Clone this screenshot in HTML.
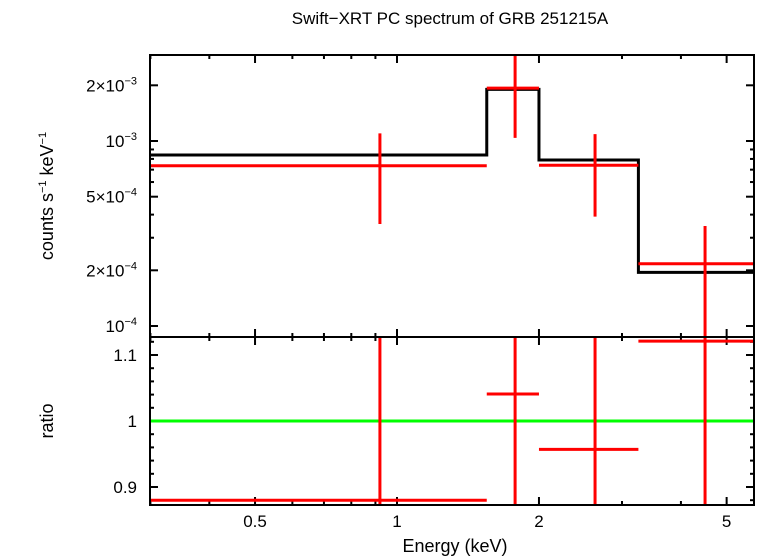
<!DOCTYPE html>
<html><head><meta charset="utf-8"><style>
body{margin:0;background:#fff}
svg{display:block;font-family:"Liberation Sans",sans-serif}
</style></head><body>
<svg id="c" width="758" height="556" xmlns="http://www.w3.org/2000/svg"></svg>
<script>
const binLo=[0.3,1.55,2.0,3.25];
const binHi=[1.55,2.0,3.25,5.72];
const binCenter=[0.92,1.78,2.63,4.5];
const modelVals=[8.4e-4,1.9e-3,7.9e-4,1.95e-4];
const dataVals=[7.35e-4,1.93e-3,7.4e-4,2.17e-4];
const dataErrLo=[3.56e-4,1.04e-3,3.9e-4,5e-5];
const dataErrHi=[1.1e-3,3.5e-3,1.09e-3,3.47e-4];
const ratioVals=[0.88,1.041,0.957,1.121];
const ratioErrLo=[0.5,0.5,0.5,0.5];
const ratioErrHi=[1.5,1.5,1.5,1.5];
const xTickVals=[0.5,1,2,5];
const xTickLabels=["0.5","1","2","5"];
const yTickVals=[2e-3,1e-3,5e-4,2e-4,1e-4];
const rTickVals=[0.9,1,1.1];
const rTickLabels=["0.9","1","1.1"];

const L=150,R=754,T=55,M=337,B=505;
const NS="http://www.w3.org/2000/svg";
const svg=document.getElementById('c');
const xs=e=>397+471.6*Math.log10(e);
const ys=v=>141-185*(Math.log10(v)+3);
const yr=v=>421-660*(v-1);
const clampT=y=>Math.max(T,Math.min(M,y));
const clampR=y=>Math.max(M,Math.min(B,y));
function el(tag,attrs,name,parent){const e=document.createElementNS(NS,tag);for(const k in attrs)e.setAttribute(k,attrs[k]);


(parent||svg).appendChild(e);return e;}
function line(x1,y1,x2,y2,c,w,name){return el('line',{x1,y1,x2,y2,stroke:c,'stroke-width':w},name);}
function text(x,y,s,name,anchor,size,extra){const t=el('text',Object.assign({x,y,'font-size':size||17,'text-anchor':anchor||'middle',fill:'#000'},extra||{}),name);t.innerHTML=s;return t;}

const minors=[];for(let d=0.1;d<=1;d*=10)for(let k=1;k<10;k++){const v=k*d;if(v>0.3&&v<5.7)minors.push(v);}
minors.forEach(v=>{const x=xs(v);const maj=xTickVals.includes(+v.toFixed(3));const len=maj?8:4;
 [[T,1],[M,-1],[M,1],[B,-1]].forEach(([y,s])=>line(x,y,x,y+s*len,'#000',2,'x-tick'));});
xTickVals.forEach((v,i)=>text(xs(v),527,xTickLabels[i],'x-tick-label','middle',17));
const yMin=[];for(let d=1e-4;d<=1e-3;d*=10)for(let k=1;k<10;k++){const v=k*d;if(ys(v)>T&&ys(v)<M)yMin.push(v);}
yMin.forEach(v=>{const y=ys(v);const maj=yTickVals.some(t=>Math.abs(t-v)/t<1e-6);const len=maj?8:4;
 line(L,y,L+len,y,'#000',2,'y-tick');line(R,y,R-len,y,'#000',2,'y-tick');});
const yLab=['2×10<tspan dy="-7" font-size="11">−3</tspan>','10<tspan dy="-7" font-size="11">−3</tspan>','5×10<tspan dy="-7" font-size="11">−4</tspan>','2×10<tspan dy="-7" font-size="11">−4</tspan>','10<tspan dy="-7" font-size="11">−4</tspan>'];
yTickVals.forEach((v,i)=>text(137,ys(v)+6,yLab[i],'y-tick-label','end',17));
for(let v=0.88;v<=1.125;v+=0.02){const y=yr(v);const maj=Math.abs((v*10)-Math.round(v*10))<1e-6;const len=maj?8:4;
 line(L,y,L+len,y,'#000',2,'ratio-tick');line(R,y,R-len,y,'#000',2,'ratio-tick');}
rTickVals.forEach((v,i)=>text(137,yr(v)+6,rTickLabels[i],'ratio-tick-label','end',17));

let d='';binLo.forEach((lo,i)=>{const y=ys(modelVals[i]);d+=(i?'L':'M')+xs(lo)+','+y+'L'+Math.min(R,xs(binHi[i]))+','+y;});
el('path',{d,fill:'none',stroke:'#000','stroke-width':3},'model-line');
binLo.forEach((lo,i)=>{const y=ys(dataVals[i]);
 line(xs(lo),y,Math.min(R,xs(binHi[i])),y,'#f00',3,'data-point-xerr');
 line(xs(binCenter[i]),clampT(ys(dataErrHi[i])),xs(binCenter[i]),clampT(ys(dataErrLo[i])),'#f00',3,'data-point-yerr');});
line(L,yr(1),R,yr(1),'#0f0',3,'ratio-unity-line');
binLo.forEach((lo,i)=>{const y=yr(ratioVals[i]);
 line(xs(lo),y,Math.min(R,xs(binHi[i])),y,'#f00',3,'ratio-point-xerr');
 line(xs(binCenter[i]),clampR(yr(ratioErrHi[i])),xs(binCenter[i]),clampR(yr(ratioErrLo[i])),'#f00',3,'ratio-point-yerr');});
el('rect',{x:L,y:T,width:R-L,height:M-T,fill:'none',stroke:'#000','stroke-width':2},'top-panel-frame');
el('rect',{x:L,y:M,width:R-L,height:B-M,fill:'none',stroke:'#000','stroke-width':2},'ratio-panel-frame');
text(450,24,'Swift−XRT PC spectrum of GRB 251215A','chart-title','middle',17);
text(455,552,'Energy (keV)','x-axis-title','middle',18);
text(0,0,'counts s<tspan dy="-7" font-size="11">−1</tspan><tspan dy="7"> keV</tspan><tspan dy="-7" font-size="11">−1</tspan>','y-axis-title','middle',18,{transform:'translate(53,196) rotate(-90)'});
text(0,0,'ratio','ratio-axis-title','middle',18,{transform:'translate(53,421) rotate(-90)'});
</script>
</body></html>
